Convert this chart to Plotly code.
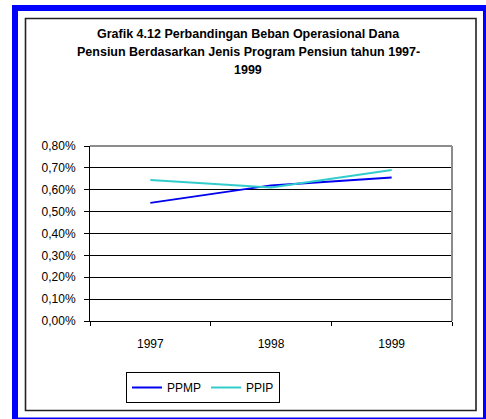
import plotly.graph_objects as go

years = ["1997", "1998", "1999"]
ppmp = [0.0054, 0.0062, 0.00656]
ppip = [0.00645, 0.0061, 0.0069]
series_names = ["PPMP", "PPIP"]
title_lines = [
    "Grafik 4.12 Perbandingan Beban Operasional Dana",
    "Pensiun Berdasarkan Jenis Program Pensiun tahun 1997-",
    "1999",
]

W, H = 486, 419
L, R, T, B = 90, 452, 146, 321


def px(x):
    return (x - L) / (R - L)


def py(y):
    return (B - y) / (B - T)


FONT = "Liberation Sans, Arial, sans-serif"

fig = go.Figure()
fig.add_trace(go.Scatter(x=years, y=ppmp, mode="lines", name=series_names[0],
                         line=dict(color="#0000EE", width=2)))
fig.add_trace(go.Scatter(x=years, y=ppip, mode="lines", name=series_names[1],
                         line=dict(color="#33CCCC", width=2)))

shapes = [
    # blue outer frame
    dict(type="rect", xref="paper", yref="paper", x0=px(12), x1=px(486), y0=py(420), y1=py(5),
         fillcolor="#0000FF", line=dict(width=0), layer="below"),
    dict(type="rect", xref="paper", yref="paper", x0=px(18), x1=px(483), y0=py(417.5), y1=py(11),
         fillcolor="#FFFFFF", line=dict(width=0), layer="below"),
    # inner black frame
    dict(type="rect", xref="paper", yref="paper", x0=px(25.5), x1=px(476), y0=py(410.5), y1=py(18.5),
         fillcolor="rgba(0,0,0,0)", line=dict(color="#222222", width=1.6), layer="below"),
    # plot area top/right gray border
    dict(type="line", xref="paper", yref="paper", x0=0, x1=1, y0=1, y1=1,
         line=dict(color="#8C8C8C", width=2), layer="above"),
    dict(type="line", xref="paper", yref="paper", x0=1, x1=1, y0=0, y1=1,
         line=dict(color="#8C8C8C", width=2), layer="above"),
]

annotations = []
title_y = [33.5, 52, 70.5]
for txt, yy in zip(title_lines, title_y):
    annotations.append(dict(text="<b>" + txt + "</b>", xref="paper", yref="paper",
                            x=px(248), y=py(yy), xanchor="center", yanchor="middle",
                            showarrow=False, font=dict(family=FONT, size=12.5, color="black")))

fig.update_layout(
    width=W, height=H,
    margin=dict(l=L, r=W - R, t=T, b=H - B, pad=0),
    paper_bgcolor="white",
    plot_bgcolor="rgba(0,0,0,0)",
    font=dict(family=FONT, size=12, color="black"),
    separators=",.",
    showlegend=True,
    legend=dict(orientation="h", x=px(126), y=py(372), xanchor="left", yanchor="top",
                bordercolor="black", borderwidth=1, bgcolor="white",
                font=dict(family=FONT, size=12, color="black")),
    shapes=shapes,
    annotations=annotations,
    xaxis=dict(type="category", range=[-0.5, 2.5], showgrid=False, showline=True,
               linecolor="black", linewidth=1,
               ticks="outside", tickson="boundaries", ticklen=4, tickcolor="black",
               ticklabelstandoff=12,
               tickfont=dict(family=FONT, size=12, color="black"), zeroline=False,
               fixedrange=True),
    yaxis=dict(range=[0, 0.008], dtick=0.001, tickformat=".2%", showgrid=True,
               gridcolor="black", gridwidth=1, showline=True, linecolor="black", linewidth=1,
               ticks="outside", ticklen=5, tickcolor="black", zeroline=False,
               ticklabelstandoff=6,
               tickfont=dict(family=FONT, size=12, color="black"), fixedrange=True),
)

fig.write_html("out.html", config={"displayModeBar": False},
               post_script="document.body.style.margin='0';")
